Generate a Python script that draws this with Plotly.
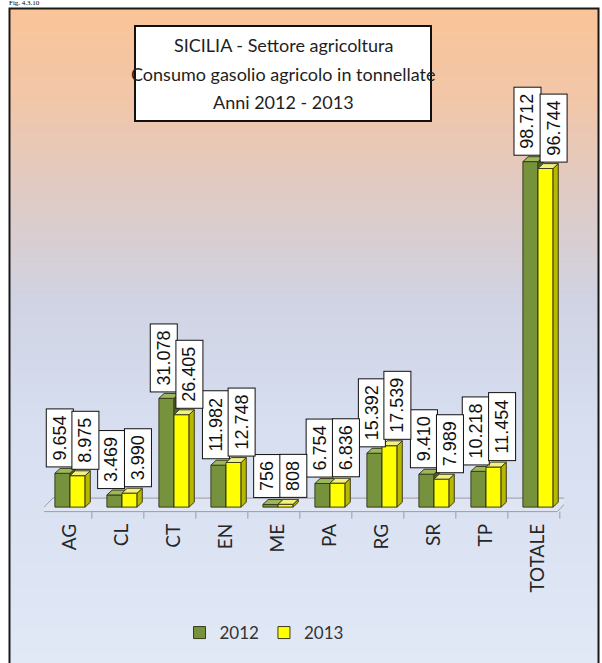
import plotly.graph_objects as go

# ---- data -------------------------------------------------------------
categories = ["AG", "CL", "CT", "EN", "ME", "PA", "RG", "SR", "TP", "TOTALE"]
values_2012 = [9654, 3469, 31078, 11982, 756, 6754, 15392, 9410, 10218, 98712]
values_2013 = [8975, 3990, 26405, 12748, 808, 6836, 17539, 7989, 11454, 96744]
series_names = ["2012", "2013"]
title_lines = [
    "SICILIA - Settore agricoltura",
    "Consumo gasolio agricolo in tonnellate",
    "Anni 2012 - 2013",
]
fig_caption = "Fig. 4.3.10"

# ---- page geometry (pixels) -------------------------------------------
W, H = 602, 663


def px(x):
    return x / W


def py(y):
    return 1 - y / H


Y_RANGE = [-3400, 118000]
X_RANGE = [-0.5, 9.5]
X_DOMAIN = [px(44), px(564)]
Y_DOMAIN = [py(519), py(94.1)]

BAR_W = 0.29      # width of each column front face (category units)
DEPTH_X = 0.10    # 3-D depth offset, x
DEPTH_Y = 1400    # 3-D depth offset, y (value units)

STYLE = {
    "2012": dict(front="#76923C", side="#4F6228", top="#9CB85A"),
    "2013": dict(front="#FFFF00", side="#B8B800", top="#F2F27A"),
}
EDGE = "#3B3B1E"


def fmt_it(v):
    return f"{v:,}".replace(",", ".")


def faces(values, left_offset):
    """Side and top parallelograms of 3-D columns, one polygon per column."""
    sx, sy, tx, ty = [], [], [], []
    for i, v in enumerate(values):
        x0 = i + left_offset
        x1 = x0 + BAR_W
        sx += [x1, x1 + DEPTH_X, x1 + DEPTH_X, x1, x1, None]
        sy += [0, DEPTH_Y, v + DEPTH_Y, v, 0, None]
        tx += [x0, x0 + DEPTH_X, x1 + DEPTH_X, x1, x0, None]
        ty += [v, v + DEPTH_Y, v + DEPTH_Y, v, v, None]
    return sx, sy, tx, ty


fig = go.Figure()

# 2013 columns live on an overlaying subplot so they are painted in front of 2012
series = [("2012", values_2012, -BAR_W, "x", "y"),
          ("2013", values_2013, 0.0, "x2", "y2")]

for name, vals, off, xa, ya in series:
    st = STYLE[name]
    idx = list(range(len(categories)))
    fig.add_trace(go.Bar(
        x=idx, y=vals, name=name, width=BAR_W, offset=off,
        marker=dict(color=st["front"], line=dict(color=EDGE, width=1)),
        xaxis=xa, yaxis=ya, hoverinfo="skip",
    ))
    sx, sy, tx, ty = faces(vals, off)
    fig.add_trace(go.Scatter(
        x=sx, y=sy, mode="lines", fill="toself", fillcolor=st["side"],
        line=dict(color=EDGE, width=1), showlegend=False,
        xaxis=xa, yaxis=ya, hoverinfo="skip",
    ))
    fig.add_trace(go.Scatter(
        x=tx, y=ty, mode="lines", fill="toself", fillcolor=st["top"],
        line=dict(color=EDGE, width=1), showlegend=False,
        xaxis=xa, yaxis=ya, hoverinfo="skip",
    ))

# ---- value labels in white boxes ---------------------------------------
annotations = []
for vals, dx in ((values_2012, -0.20), (values_2013, 0.30)):
    for i, v in enumerate(vals):
        txt = fmt_it(v)
        n_dig = sum(c.isdigit() for c in txt)
        n_dot = txt.count(".")
        annotations.append(dict(
            x=i + dx, y=v, xref="x", yref="y", text=txt, showarrow=False,
            textangle=-90, xanchor="center", yanchor="bottom", yshift=6,
            font=dict(family="Liberation Sans, Arial", size=18, color="#111111"),
            bgcolor="white", bordercolor="#111111", borderwidth=1,
            borderpad=3, height=20, width=10 * n_dig + 5 * n_dot + 6,
        ))

# ---- title text --------------------------------------------------------
for line, yc in zip(title_lines, (45, 74, 102)):
    annotations.append(dict(
        x=px(283), y=py(yc), xref="paper", yref="paper", text=line,
        showarrow=False, xanchor="center", yanchor="middle",
        font=dict(family="Lato, Carlito, sans-serif", size=18, color="#1E1E1E"),
    ))

annotations.append(dict(
    x=px(8), y=py(8), xref="paper", yref="paper", text=fig_caption,
    showarrow=False, xanchor="left", yanchor="bottom", borderpad=0,
    font=dict(family="Liberation Serif, Times New Roman", size=7, color="black"),
))

# ---- background gradient, frame, floor ---------------------------------
shapes = []
stops = [
    (8, (250, 196, 152)),
    (100, (241, 198, 168)),
    (200, (222, 203, 198)),
    (300, (208, 211, 227)),
    (420, (214, 222, 240)),
    (663, (225, 232, 246)),
]


def grad_color(y):
    for (y0, c0), (y1, c1) in zip(stops[:-1], stops[1:]):
        if y0 <= y <= y1:
            t = (y - y0) / (y1 - y0)
            return "rgb({},{},{})".format(*[round(a + (b - a) * t) for a, b in zip(c0, c1)])
    return "rgb({},{},{})".format(*stops[-1][1])


step = 3
y = 8
while y < H:
    shapes.append(dict(
        type="rect", xref="paper", yref="paper", layer="below",
        x0=px(9), x1=px(598), y0=py(min(y + step + 0.5, H)), y1=py(y),
        fillcolor=grad_color(y + step / 2), line=dict(width=0),
    ))
    y += step

# frame
shapes.append(dict(type="rect", xref="paper", yref="paper", layer="below",
                   x0=px(9.5), x1=px(598.5), y0=py(670), y1=py(8.5),
                   line=dict(color="#1A1A1A", width=2), fillcolor="rgba(0,0,0,0)"))

# floor of the 3-D plot
floor_front, floor_back = -1290, 2570
fx0, fx1, shift = -0.58, 9.37, 0.25
shapes.append(dict(type="path", xref="x", yref="y", layer="below",
                   path=f"M{fx0},{floor_front} L{fx1},{floor_front} L{fx1 + shift},{floor_back} "
                        f"L{fx0 + shift},{floor_back} Z",
                   line=dict(color="#9A9CA6", width=1), fillcolor="rgba(235,238,245,0.35)"))
for j in range(len(categories) + 1):
    bx = j - 0.5 - 0.08
    shapes.append(dict(type="line", xref="x", yref="y", layer="below",
                       x0=bx, x1=bx, y0=floor_front, y1=floor_front - 2000,
                       line=dict(color="#9A9CA6", width=1)))

# title box
shapes.append(dict(type="rect", xref="paper", yref="paper", layer="below",
                   x0=px(135), x1=px(431), y0=py(121), y1=py(26),
                   fillcolor="white", line=dict(color="#111111", width=2)))

fig.update_layout(
    width=W, height=H, margin=dict(l=0, r=0, t=0, b=0),
    paper_bgcolor="white", plot_bgcolor="rgba(0,0,0,0)",
    barmode="overlay", shapes=shapes, annotations=annotations,
    showlegend=True,
    legend=dict(orientation="h", x=px(264), xanchor="center",
                y=py(633), yanchor="middle", bgcolor="rgba(0,0,0,0)",
                font=dict(family="Lato, Carlito, sans-serif", size=17, color="#333333"),
                itemwidth=30, traceorder="normal"),
    xaxis=dict(domain=X_DOMAIN, range=X_RANGE, tickmode="array",
               tickvals=list(range(len(categories))), ticktext=categories,
               tickangle=-90, ticks="", showline=False, showgrid=False,
               zeroline=False, fixedrange=True,
               tickfont=dict(family="Lato, Carlito, sans-serif", size=19, color="#262626")),
    yaxis=dict(domain=Y_DOMAIN, range=Y_RANGE, visible=False, fixedrange=True),
    xaxis2=dict(overlaying="x", range=X_RANGE, visible=False, anchor="y2", fixedrange=True),
    yaxis2=dict(overlaying="y", range=Y_RANGE, visible=False, anchor="x2", fixedrange=True),
)

fig.write_html("out.html")
